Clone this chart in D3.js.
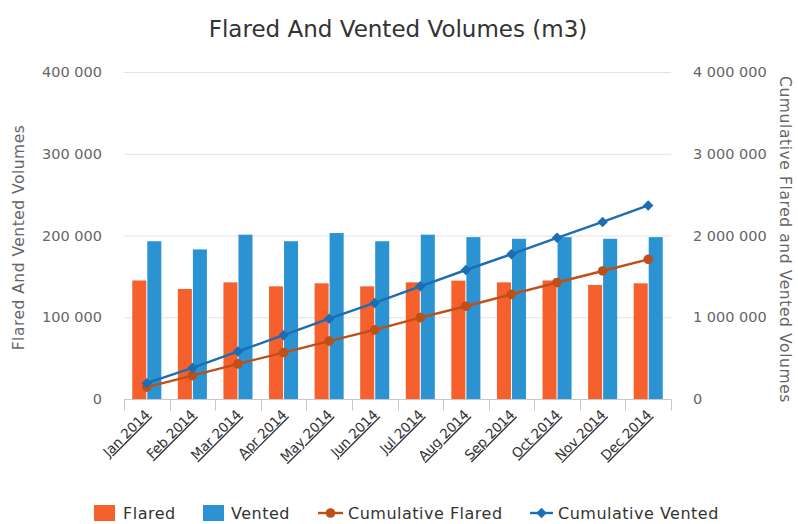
<!DOCTYPE html>
<html>
<head>
<meta charset="utf-8">
<script src="https://cdn.jsdelivr.net/npm/d3@7/dist/d3.min.js"></script>
<style>
  html, body { margin: 0; padding: 0; background: #fff; }
  svg { display: block; font-family: "DejaVu Sans", Verdana, sans-serif; }
</style>
</head>
<body>
<svg id="chart" width="798" height="524"></svg>
<script>
// Monthly volumes (m3)
const months = ["Jan 2014", "Feb 2014", "Mar 2014", "Apr 2014", "May 2014", "Jun 2014",
                "Jul 2014", "Aug 2014", "Sep 2014", "Oct 2014", "Nov 2014", "Dec 2014"];
const flared = [145000, 134600, 142700, 137800, 141500, 137800, 142700, 144800, 142700, 145000, 139500, 141500];
const vented = [193000, 183000, 201000, 193000, 203000, 193000, 201000, 198000, 196000, 198000, 196000, 198000];
const cumulativeFlared = [145000, 286000, 430000, 568000, 708000, 845000, 995000, 1135000, 1280000, 1425000, 1566000, 1708000];
const cumulativeVented = [193000, 380000, 582000, 780000, 982000, 1175000, 1378000, 1578000, 1772000, 1972000, 2166000, 2368000];
const leftTicks = [0, 100000, 200000, 300000, 400000];
const rightTicks = [0, 1000000, 2000000, 3000000, 4000000];

const colors = {
  flared: "#f5602d",
  vented: "#2b93d1",
  cumFlared: "#bf4f19",
  cumVented: "#1d6db3"
};

const svg = d3.select("#chart");
const plot = { left: 124, right: 671, top: 72, bottom: 399 };

const fmt = v => d3.format(",")(v).replace(/,/g, " ");

const x0 = d3.scaleBand().domain(months).range([plot.left, plot.right]).padding(0);
const x1 = d3.scaleBand().domain(["flared", "vented"]).range([0, x0.bandwidth()])
  .paddingInner(0.067).paddingOuter(0.55);
const yL = d3.scaleLinear().domain([0, 400000]).range([plot.bottom, plot.top]);
const yR = d3.scaleLinear().domain([0, 4000000]).range([plot.bottom, plot.top]);

// Title
svg.append("text")
  .attr("x", 398).attr("y", 37)
  .attr("text-anchor", "middle")
  .attr("font-size", 23)
  .attr("fill", "#333")
  .text("Flared And Vented Volumes (m3)");

// Horizontal grid lines
svg.append("g").selectAll("line").data(leftTicks.filter(d => d > 0)).join("line")
  .attr("x1", plot.left).attr("x2", plot.right)
  .attr("y1", d => yL(d) + 0.5).attr("y2", d => yL(d) + 0.5)
  .attr("stroke", "#e2e2e2").attr("stroke-width", 1);

// Left axis
const leftAxis = svg.append("g")
  .attr("transform", `translate(${plot.left - 22},0)`)
  .call(d3.axisLeft(yL).tickValues(leftTicks).tickFormat(fmt).tickSize(0).tickPadding(0));
leftAxis.select(".domain").remove();
leftAxis.selectAll("text").attr("font-size", 14.5).attr("fill", "#666")
  .attr("font-family", "DejaVu Sans, Verdana, sans-serif");

// Right axis
const rightAxis = svg.append("g")
  .attr("transform", `translate(${plot.right + 22},0)`)
  .call(d3.axisRight(yR).tickValues(rightTicks).tickFormat(fmt).tickSize(0).tickPadding(0));
rightAxis.select(".domain").remove();
rightAxis.selectAll("text").attr("font-size", 14.5).attr("fill", "#666")
  .attr("font-family", "DejaVu Sans, Verdana, sans-serif");

// Axis titles
svg.append("text")
  .attr("transform", `translate(24,${(plot.top + plot.bottom) / 2 + 2}) rotate(-90)`)
  .attr("text-anchor", "middle")
  .attr("font-size", 15.5).attr("letter-spacing", 0.5).attr("fill", "#666")
  .text("Flared And Vented Volumes");
svg.append("text")
  .attr("transform", `translate(780,${(plot.top + plot.bottom) / 2 + 4}) rotate(90)`)
  .attr("text-anchor", "middle")
  .attr("font-size", 15.5).attr("letter-spacing", 0.6).attr("fill", "#666")
  .text("Cumulative Flared and Vented Volumes");

// Bars
const groups = svg.append("g").selectAll("g").data(months).join("g")
  .attr("transform", d => `translate(${x0(d)},0)`);
groups.append("rect")
  .attr("x", x1("flared")).attr("width", x1.bandwidth())
  .attr("y", (d, i) => yL(flared[i])).attr("height", (d, i) => yL(0) - yL(flared[i]))
  .attr("fill", colors.flared);
groups.append("rect")
  .attr("x", x1("vented")).attr("width", x1.bandwidth())
  .attr("y", (d, i) => yL(vented[i])).attr("height", (d, i) => yL(0) - yL(vented[i]))
  .attr("fill", colors.vented);

// X axis with category ticks
const xAxis = svg.append("g")
  .attr("transform", `translate(0,${plot.bottom + 0.5})`);
xAxis.append("line")
  .attr("x1", plot.left).attr("x2", plot.right)
  .attr("stroke", "#c8c8c8");
const boundaries = months.map(m => x0(m)).concat([plot.right]);
xAxis.selectAll("line.tick").data(boundaries).join("line")
  .attr("class", "tick")
  .attr("x1", d => Math.round(d) + 0.5).attr("x2", d => Math.round(d) + 0.5)
  .attr("y1", 0).attr("y2", 11)
  .attr("stroke", "#c8c8c8");
xAxis.selectAll("text").data(months).join("text")
  .attr("transform", d => `translate(${x0(d) + x0.bandwidth() / 2 + 4},${16}) rotate(-45)`)
  .attr("text-anchor", "end")
  .attr("font-size", 13.5)
  .attr("fill", "#333")
  .style("text-decoration", "underline")
  .text(d => d);

// Cumulative lines
const cx = d => x0(d) + x0.bandwidth() / 2;
const lineF = d3.line().x((d, i) => cx(months[i])).y(d => yR(d));
svg.append("path").datum(cumulativeFlared)
  .attr("d", lineF).attr("fill", "none")
  .attr("stroke", colors.cumFlared).attr("stroke-width", 2.4);
svg.append("path").datum(cumulativeVented)
  .attr("d", lineF).attr("fill", "none")
  .attr("stroke", colors.cumVented).attr("stroke-width", 2.4);

svg.append("g").selectAll("circle").data(cumulativeFlared).join("circle")
  .attr("cx", (d, i) => cx(months[i])).attr("cy", d => yR(d))
  .attr("r", 4.8).attr("fill", colors.cumFlared);

const diamond = d3.symbol().type(d3.symbolDiamond2).size(70);
svg.append("g").selectAll("path").data(cumulativeVented).join("path")
  .attr("d", diamond)
  .attr("transform", (d, i) => `translate(${cx(months[i])},${yR(d)})`)
  .attr("fill", colors.cumVented);

// Legend
const legend = svg.append("g").attr("font-size", 16).attr("letter-spacing", 0.5).attr("fill", "#333");
const legendY = 519;
legend.append("rect").attr("x", 94).attr("y", 505).attr("width", 21).attr("height", 16).attr("fill", colors.flared);
legend.append("text").attr("x", 123).attr("y", legendY).text("Flared");
legend.append("rect").attr("x", 203).attr("y", 505).attr("width", 21).attr("height", 16).attr("fill", colors.vented);
legend.append("text").attr("x", 231).attr("y", legendY).text("Vented");

legend.append("line").attr("x1", 318).attr("x2", 343).attr("y1", 513).attr("y2", 513)
  .attr("stroke", colors.cumFlared).attr("stroke-width", 2.4);
legend.append("circle").attr("cx", 330.5).attr("cy", 513).attr("r", 4.8).attr("fill", colors.cumFlared);
legend.append("text").attr("x", 348).attr("y", legendY).text("Cumulative Flared");

legend.append("line").attr("x1", 530).attr("x2", 553).attr("y1", 513).attr("y2", 513)
  .attr("stroke", colors.cumVented).attr("stroke-width", 2.4);
legend.append("path").attr("d", diamond).attr("transform", "translate(541.5,513)").attr("fill", colors.cumVented);
legend.append("text").attr("x", 558).attr("y", legendY).text("Cumulative Vented");
</script>
</body>
</html>
